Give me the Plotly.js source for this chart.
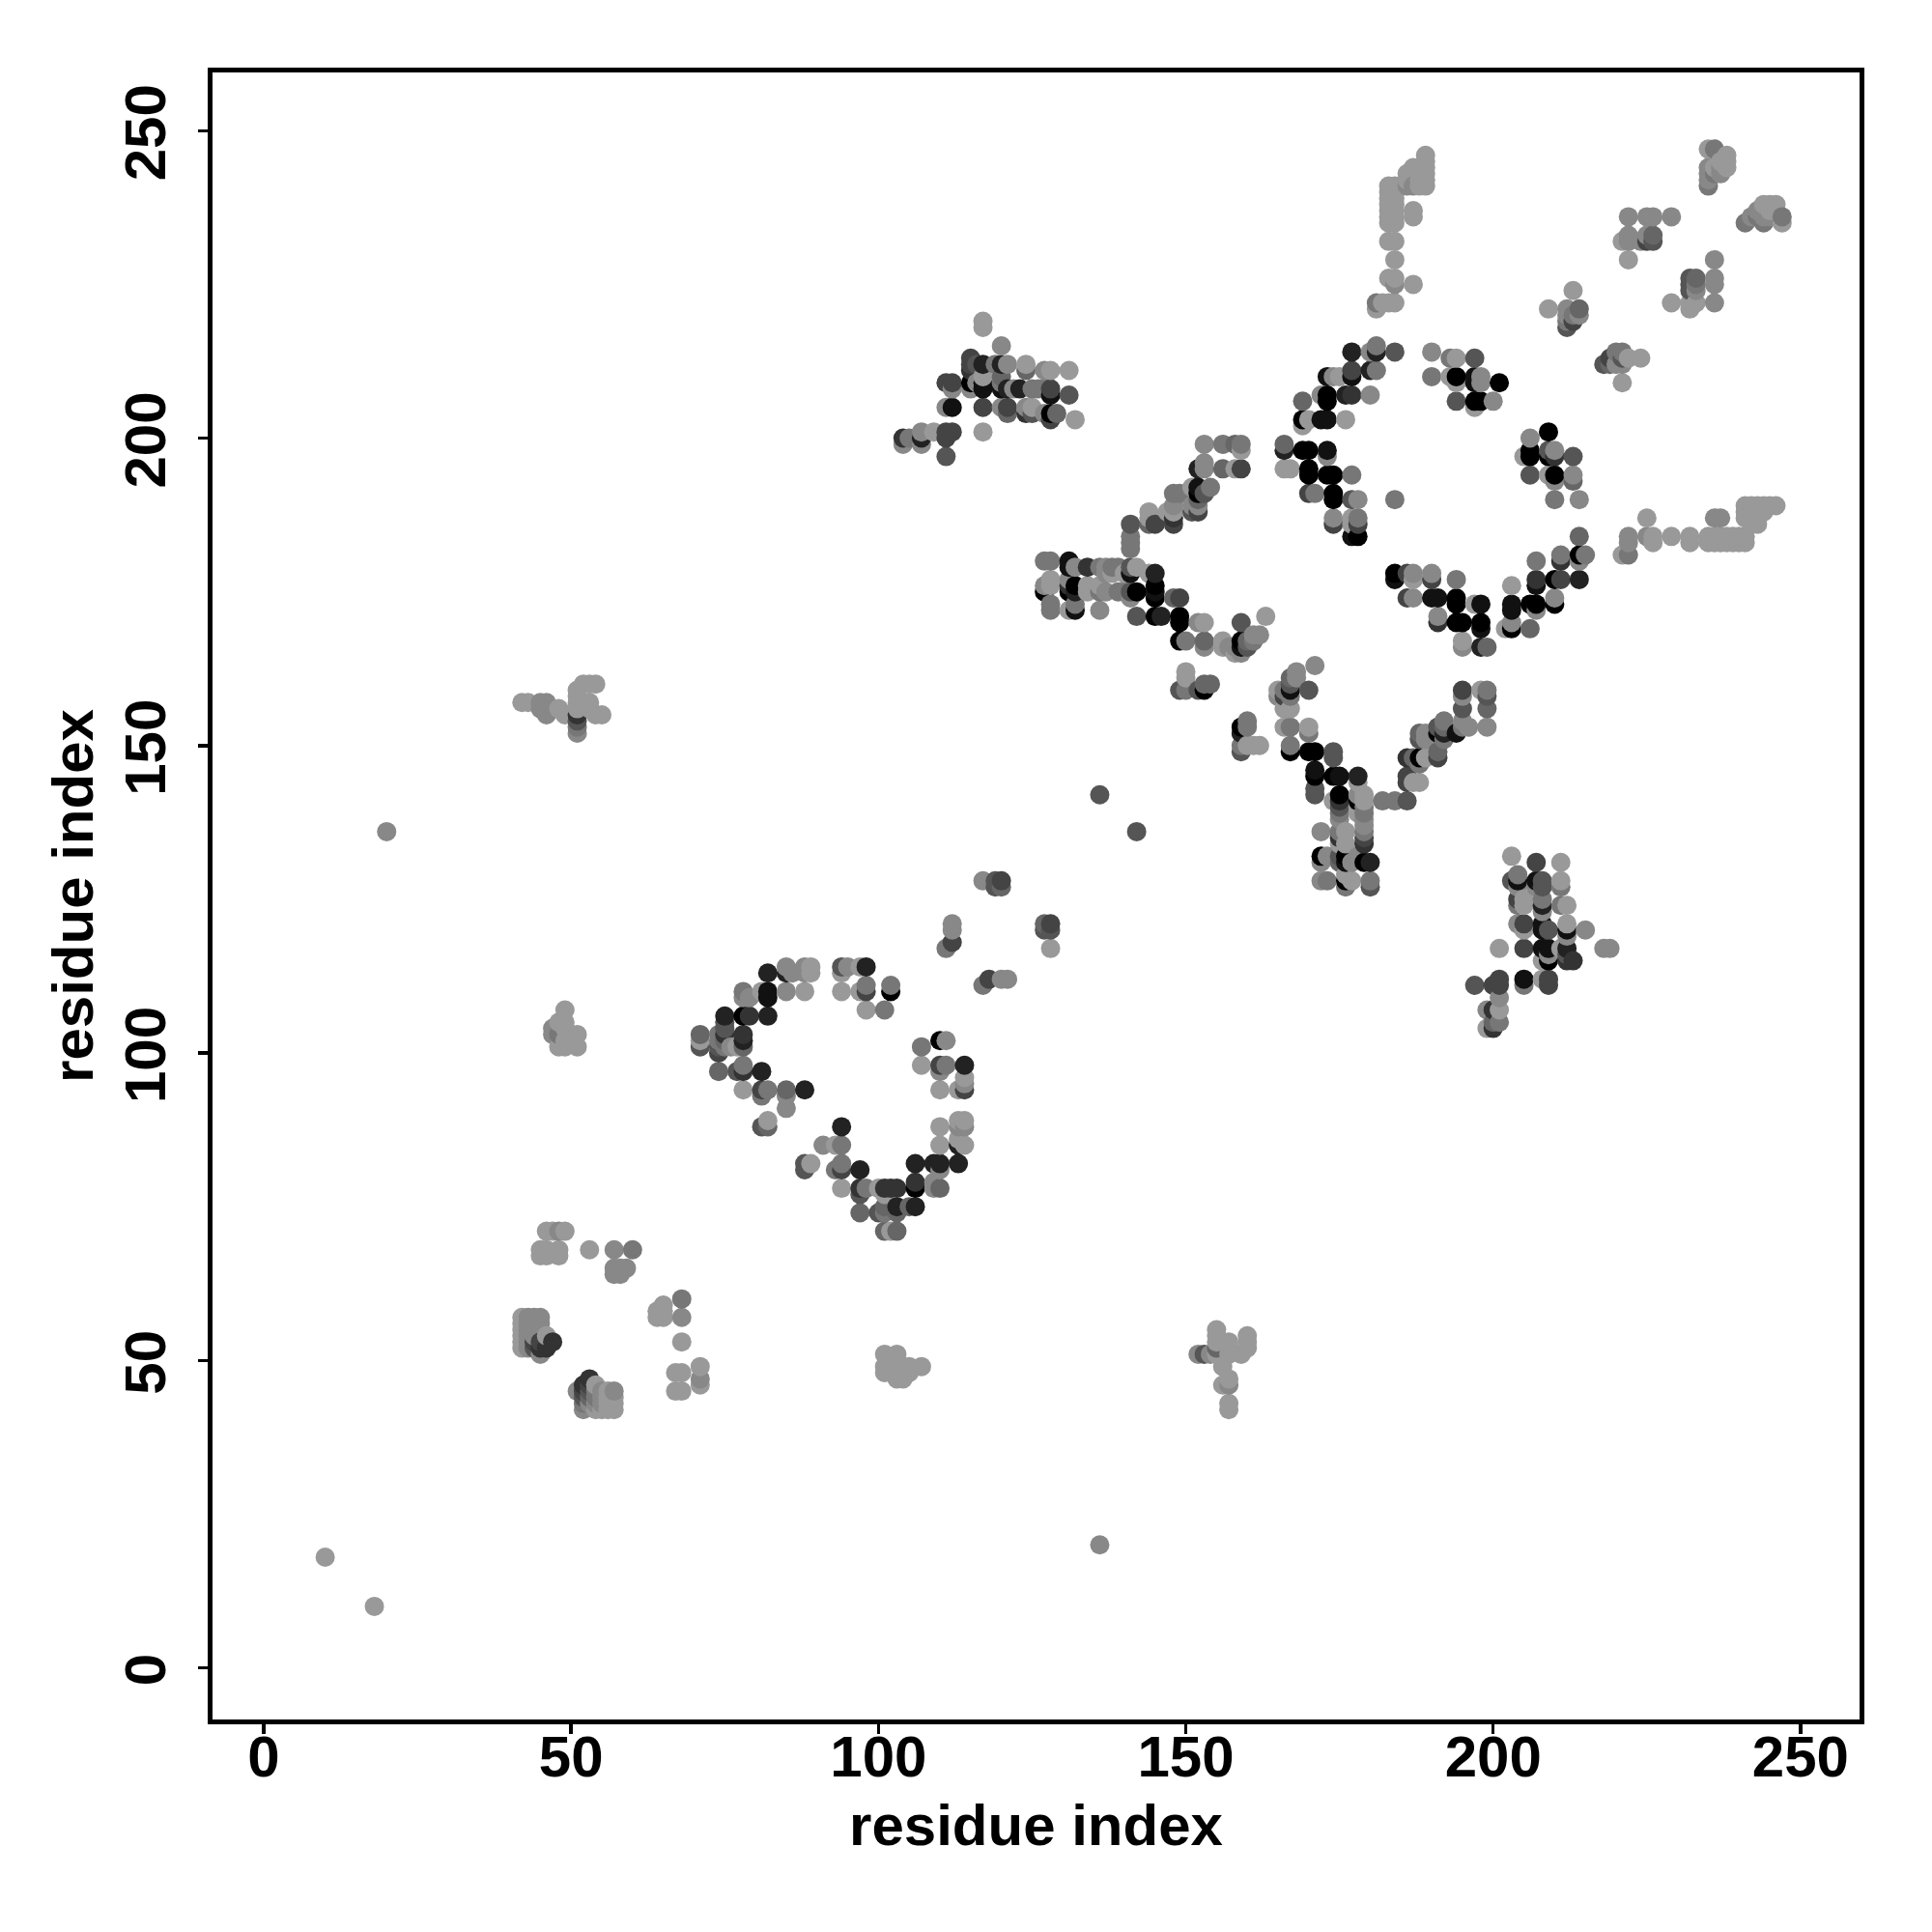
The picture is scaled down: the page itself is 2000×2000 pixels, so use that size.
<!DOCTYPE html>
<html><head><meta charset="utf-8">
<script src="https://cdn.plot.ly/plotly-3.0.1.min.js"></script>
<style>html,body{margin:0;padding:0;background:#fff}</style></head>
<body><div id="chart" style="width:2000px;height:2000px"></div>
<script>
// rows: [residue i, residue j, shade 0 (black) .. 9 (light grey)]
const singles=[[10,18,9],[18,10,9],[136,20,8],[20,136,8],[136,142,5],[142,136,5]];
const ringLow=[[82,113,2],[85,114,8],[85,113,2],[86,113,8],[88,114,8],[89,114,9],[88,113,8],[89,113,9],[78,110,7],[79,109,8],[78,109,8],[81,110,9],[82,110,1],[82,109,1],[85,110,8],[88,110,9],[75,106,2],[75,105,5],[75,104,5],[78,106,0],[79,106,3],[82,106,2],[71,103,6],[71,102,9],[71,101,5],[75,103,3],[74,103,7],[74,102,7],[74,101,5],[74,100,4],[75,102,6],[75,101,7],[78,103,3],[78,102,2],[78,101,6],[77,101,9],[76,101,8],[74,97,6],[77,97,5],[78,98,7],[78,97,3],[81,97,2],[78,94,9],[81,94,4],[81,93,7],[82,94,7],[85,94,6],[85,93,8],[85,91,8],[88,94,2],[82,89,9],[81,88,5],[82,88,6],[94,88,2],[91,85,8],[93,85,9],[94,85,7],[88,82,5],[89,82,9],[88,81,5],[93,81,7],[94,82,7],[94,81,4],[97,81,2],[94,78,9],[97,78,3],[97,77,5],[98,78,7],[97,74,6],[100,74,5],[100,78,9],[101,78,3],[102,78,3],[103,78,3],[101,77,9],[101,75,6],[103,75,2],[105,75,6],[103,74,6],[101,74,7],[101,71,6],[102,71,9],[103,71,6],[106,75,2],[106,79,3],[106,78,0],[106,82,2],[109,82,2],[110,82,2],[113,82,2],[110,81,8],[109,79,8],[110,78,6],[109,78,8],[110,88,9],[110,85,9],[113,89,9],[114,89,9],[113,88,8],[114,88,8],[113,86,9],[113,85,2],[114,85,9],[110,94,9],[113,94,9],[114,95,8],[114,94,4],[107,101,7],[107,98,9],[110,102,0],[111,102,8],[110,98,4],[111,98,7],[110,97,8],[114,98,2],[114,96,9],[94,114,5],[95,114,8],[94,113,9],[97,114,9],[98,114,2],[94,110,9],[97,110,9],[98,111,7],[98,110,4],[102,111,7],[102,110,0],[98,107,9],[101,107,7]];
const bridgeLow=[[117,111,7],[118,112,4],[120,112,8],[121,112,8],[112,121,8],[112,120,8],[112,118,4],[111,117,7],[127,121,6],[128,121,4],[127,120,5],[128,120,5],[128,117,9],[117,128,8],[119,128,5],[120,128,4],[119,127,5],[120,127,6]];
const clusterTop=[[117,219,9],[117,218,9],[120,215,8],[115,213,4],[115,212,4],[117,212,2],[116,212,5],[115,211,3],[120,212,2],[121,212,8],[119,212,7],[120,210,6],[124,212,9],[124,211,6],[127,211,8],[128,211,9],[131,211,9],[111,209,4],[112,209,4],[112,208,8],[115,209,0],[115,208,8],[116,209,8],[117,210,9],[117,209,1],[117,208,1],[120,209,7],[120,208,1],[121,208,2],[122,208,8],[123,208,2],[125,208,7],[126,208,7],[127,208,7],[128,208,4],[128,207,1],[131,207,5],[111,205,8],[112,205,1],[117,205,4],[120,205,8],[121,205,4],[121,204,6],[124,205,8],[124,204,3],[125,205,9],[125,204,5],[127,204,8],[128,204,0],[129,204,6],[128,203,4],[132,203,9],[117,201,9],[111,201,4],[112,201,4],[111,200,4],[109,201,9],[107,201,8],[107,200,2],[107,199,8],[104,200,3],[105,200,7],[104,199,8],[111,197,5]];
const chevronUp=[[153,199,8],[156,199,7],[158,199,6],[159,199,7],[159,198,9],[153,196,8],[152,195,2],[156,195,6],[158,195,9],[159,195,4],[153,195,8],[152,192,1],[154,192,7],[153,191,5],[152,191,0],[148,191,7],[149,191,7],[152,190,6],[152,189,8],[151,192,9],[151,189,8],[152,188,4],[151,188,5],[148,189,8],[147,188,9],[148,188,9],[148,187,3],[148,186,4],[144,188,9],[144,187,9],[144,186,6],[145,186,4],[141,186,5],[141,184,7],[141,183,7],[141,182,7]];
const chevronMid=[[127,180,7],[128,180,7],[131,180,1],[131,179,1],[132,179,8],[134,179,3],[136,179,7],[137,179,8],[138,179,7],[139,179,7],[141,179,5],[142,179,9],[141,178,1],[140,178,9],[138,178,9],[137,178,8],[145,178,2],[144,178,9],[128,177,9],[128,176,9],[127,176,8],[127,175,0],[131,177,8],[131,176,3],[131,175,0],[132,176,0],[132,175,2],[134,176,9],[134,175,9],[136,176,9],[136,175,7],[137,175,8],[139,175,7],[140,175,7],[141,175,5],[142,175,0],[141,174,8],[145,176,0],[145,175,1],[145,174,0],[148,174,6],[149,174,4],[128,173,7],[128,172,7],[131,172,9],[132,173,7],[132,172,1],[136,172,8],[142,171,5],[145,171,0],[146,171,2],[149,171,0],[149,170,0],[152,170,8],[153,170,9],[149,167,0],[150,167,7],[153,167,6],[153,166,8],[156,167,9],[156,166,9],[159,170,5],[163,171,9],[158,166,8],[157,166,8],[159,167,0],[159,166,1],[160,167,6],[160,166,5],[158,165,9],[159,165,8],[161,167,7],[162,168,8],[161,168,8]];
const chevronLow=[[150,162,9],[150,161,9],[150,159,7],[149,159,5],[152,159,5],[153,159,0],[153,160,6],[154,160,6],[171,163,8],[168,162,8],[167,161,6],[167,160,5],[167,159,1],[168,161,8],[170,159,5],[165,159,9],[165,158,8],[166,158,4],[166,159,7],[167,158,7],[167,156,9],[166,156,9],[166,153,9],[167,153,7],[170,153,9],[170,152,7],[160,154,7],[159,153,0],[160,153,7],[159,152,2],[159,150,7],[159,149,5],[160,150,9],[162,150,9],[161,150,9],[167,150,7],[167,149,0],[170,149,0],[171,149,0],[174,149,5],[174,148,5],[171,146,1],[171,145,0],[171,143,5],[174,145,0],[175,145,1],[178,145,2]];
const stemLow=[[171,142,5],[175,142,0],[175,141,3],[174,141,9],[178,144,9],[178,142,8],[179,142,9],[178,141,0],[179,141,9],[179,140,7],[178,140,9],[179,139,7],[178,139,9],[175,140,5],[175,139,7],[175,138,8],[179,138,8],[179,137,8],[179,136,7],[179,135,4],[179,134,3],[176,136,9],[175,136,7],[175,135,3],[176,134,9],[175,134,9],[172,136,8],[172,132,0],[173,132,8],[172,131,8],[175,132,5],[176,132,0],[176,131,1],[175,131,6],[177,131,8],[178,132,8],[179,131,0],[180,131,2],[172,128,8],[173,128,7],[176,129,9],[176,128,0],[177,128,9],[176,127,7],[180,128,7],[180,127,5]];
const armLow=[[195,159,4],[195,158,8],[195,156,5],[198,159,9],[199,159,7],[199,158,5],[199,156,6],[199,153,8],[195,154,8],[196,153,8],[195,153,7],[194,152,1],[192,154,7],[192,153,6],[192,152,2],[192,151,7],[191,153,5],[191,152,0],[188,152,6],[189,152,8],[188,151,5],[189,151,8],[191,149,6],[191,148,4],[186,148,3],[187,148,6],[188,148,0],[189,148,9],[188,147,7],[186,145,4],[186,144,4],[187,144,9],[188,144,9],[186,141,5],[184,141,7],[182,141,7]];
const ringHigh=[[177,214,2],[181,215,7],[180,214,8],[181,214,2],[184,214,5],[177,211,4],[177,210,1],[173,210,1],[174,210,8],[175,210,9],[180,211,2],[181,211,7],[173,207,0],[173,206,0],[172,207,8],[176,207,2],[177,207,3],[180,207,8],[169,206,6],[169,203,0],[170,203,9],[169,202,9],[172,203,1],[173,203,1],[176,203,9],[166,199,6],[166,198,2],[169,198,0],[170,198,0],[173,198,1],[173,197,8],[166,195,9],[167,195,9],[170,195,0],[170,194,0],[173,194,0],[174,194,0],[177,194,7],[170,191,4],[171,191,7],[174,191,0],[174,190,0],[177,190,5],[178,190,8],[184,190,7],[174,187,8],[174,186,4],[177,187,9],[178,187,7],[177,186,9],[178,186,4],[177,184,1],[178,184,0],[190,214,8],[193,213,7],[194,213,9],[197,213,5],[190,210,7],[193,210,9],[194,210,0],[194,209,9],[197,210,1],[197,209,1],[198,210,8],[198,209,8],[201,209,0],[194,206,5],[197,206,0],[198,206,0],[200,206,8],[197,205,9],[209,201,0],[206,200,8],[206,198,0],[206,197,0],[205,197,9],[209,198,5],[210,198,8],[209,197,0],[210,197,3],[213,197,5],[206,194,5],[209,194,9],[210,194,0],[210,193,8],[213,194,8],[213,193,6],[210,190,7],[214,190,8],[214,184,6],[211,181,7],[211,180,3],[214,181,0],[215,181,7],[214,180,8],[207,180,7],[207,177,3],[207,176,1],[210,177,0],[211,177,4],[214,177,2],[203,176,9],[203,173,1],[203,172,1],[206,173,0],[207,173,0],[207,172,8],[210,174,8],[210,173,0],[203,170,8],[203,169,0],[202,169,9],[206,169,6],[184,178,0],[184,177,1],[186,178,4],[187,178,8],[187,177,9],[190,178,8],[190,177,4],[194,177,7],[186,174,4],[187,174,8],[190,174,1],[191,174,1],[194,174,0],[194,173,0],[197,173,9],[198,173,1],[191,171,8],[191,170,3],[194,170,0],[195,170,0],[198,170,0],[198,169,1],[195,167,9],[195,166,8],[198,166,2],[199,166,6]];
const stemTop=[[183,241,9],[183,240,9],[183,239,9],[183,238,9],[183,237,9],[183,236,9],[183,235,9],[184,241,9],[184,240,9],[184,239,9],[184,238,9],[184,237,9],[184,236,9],[184,235,9],[185,241,9],[186,241,8],[187,241,8],[186,243,9],[186,242,9],[187,244,9],[188,244,9],[188,243,9],[188,242,9],[188,241,9],[189,246,9],[189,245,9],[189,244,9],[189,243,9],[189,242,9],[189,241,9],[187,237,9],[187,236,9],[183,232,9],[184,232,9],[184,229,9],[183,226,9],[184,226,9],[184,225,8],[187,225,9],[181,222,7],[181,221,9],[182,222,9],[183,222,9],[184,222,9]];
const cornerTop=[[222,236,8],[225,236,8],[226,236,8],[229,236,8],[222,233,8],[221,232,9],[222,232,8],[224,232,8],[225,232,4],[225,233,8],[226,233,6],[226,232,5],[222,229,9],[236,229,8],[232,226,5],[233,226,6],[232,225,5],[233,225,7],[236,226,8],[236,225,8],[232,224,5],[233,224,8],[229,222,9],[232,222,9],[233,222,9],[232,221,9],[236,222,8],[235,247,9],[236,247,7],[238,246,9],[235,244,8],[235,243,8],[235,242,8],[235,241,7],[236,244,9],[236,243,7],[237,245,9],[237,244,8],[237,243,8],[238,245,9],[238,244,9],[241,235,7],[242,236,8],[243,237,8],[244,238,9],[245,238,9],[246,238,9],[243,236,7],[244,235,7],[244,236,8],[245,237,9],[245,236,8],[247,236,7],[247,235,9],[246,237,9]];
const midTop=[[213,224,9],[209,221,9],[212,221,8],[214,221,6],[214,220,8],[212,220,8],[212,219,7],[212,218,5],[213,219,4],[213,220,7],[220,214,7],[221,214,7],[218,212,5],[219,213,4],[219,212,6],[220,212,8],[221,213,5],[221,212,8],[222,213,9],[224,213,9],[221,209,9]];
const stripRight=[[225,187,9],[222,184,8],[222,183,8],[221,181,9],[222,181,7],[225,184,8],[226,184,9],[226,183,9],[229,184,9],[232,184,9],[232,183,9],[235,184,9],[236,184,9],[237,184,9],[238,184,9],[239,184,9],[241,184,9],[235,183,9],[236,183,9],[237,183,9],[238,183,9],[239,183,9],[240,183,9],[240,184,9],[241,183,9],[236,187,8],[237,187,8],[241,189,9],[242,189,9],[243,189,9],[244,189,9],[245,189,9],[246,189,9],[241,188,9],[242,188,9],[243,188,9],[244,188,9],[241,187,9],[242,187,9],[243,187,9],[242,186,9],[243,186,9]];
const clusterRight=[[203,132,9],[207,131,4],[211,131,9],[204,129,7],[203,128,5],[204,128,1],[204,127,8],[207,128,1],[208,128,5],[208,127,5],[207,127,8],[211,128,9],[211,127,7],[204,125,4],[204,124,7],[205,125,9],[205,124,9],[208,125,7],[208,124,2],[208,123,8],[211,124,7],[212,124,9],[204,121,8],[205,121,4],[205,120,9],[208,121,1],[208,120,1],[209,120,5],[212,121,9],[212,120,1],[212,119,8],[215,120,8],[201,117,9],[205,117,4],[208,117,1],[209,117,1],[209,116,8],[209,115,0],[208,115,9],[212,117,2],[212,116,5],[212,115,3],[213,115,3],[211,117,9],[218,117,8],[219,117,8],[197,111,5],[200,111,4],[201,112,4],[201,111,4],[205,112,1],[205,111,7],[208,112,9],[209,112,4],[209,111,4],[201,109,8],[201,107,9],[199,107,8],[200,107,3],[200,105,6],[201,105,7],[199,104,9],[200,104,3]];
const lowLeft=[[46,71,9],[47,71,9],[48,71,8],[49,71,9],[45,68,9],[45,67,9],[46,68,9],[46,67,9],[48,68,9],[48,67,9],[53,68,9],[57,68,8],[60,68,7],[57,65,8],[57,64,8],[58,64,8],[59,65,8],[58,65,8],[65,59,9],[64,58,9],[64,57,9],[65,57,9],[65,58,9],[68,60,7],[68,57,8],[68,53,9],[67,48,9],[68,48,9],[67,45,9],[68,45,9],[71,49,9],[71,47,8],[71,46,9],[42,57,9],[42,56,9],[42,55,9],[42,54,9],[42,53,9],[42,52,9],[43,57,8],[43,56,8],[43,55,8],[43,54,8],[43,53,8],[43,52,8],[44,57,8],[44,56,8],[44,55,8],[44,54,8],[44,53,4],[44,52,5],[45,57,8],[45,56,8],[45,53,4],[45,52,3],[45,51,8],[46,54,9],[46,52,3],[47,53,3],[53,47,3],[52,46,3],[51,45,8],[52,45,4],[53,46,4],[54,46,9],[52,44,5],[52,43,7],[52,42,8],[53,45,5],[53,44,6],[53,43,8],[54,45,7],[54,44,7],[54,43,8],[54,42,9],[55,45,8],[55,44,8],[55,43,8],[55,42,9],[56,45,9],[56,44,9],[56,43,9],[56,42,9],[57,45,8],[57,44,9],[57,43,9],[57,42,9]];
const lowMid=[[101,51,9],[103,51,9],[101,49,9],[101,48,9],[103,49,9],[103,47,9],[104,49,9],[104,47,9],[105,49,9],[107,49,9],[102,50,9],[103,48,9],[105,48,9]];
const leftMid=[[49,107,9],[47,104,8],[48,105,9],[49,104,9],[47,103,8],[48,101,9],[49,101,9],[51,103,9],[51,101,9],[49,105,9],[48,103,7],[49,102,9],[50,103,9]];
const leftHigh=[[42,157,9],[43,157,9],[46,157,8],[45,157,8],[45,156,8],[46,155,8],[48,156,9],[49,155,9],[51,159,9],[52,160,9],[53,160,9],[54,160,9],[51,158,9],[51,157,9],[51,156,9],[51,155,3],[51,154,5],[51,153,7],[51,152,8],[53,157,9],[53,156,9],[54,155,9],[55,155,9]];
const rightLow=[[152,51,8],[153,51,5],[154,51,8],[155,55,9],[155,54,9],[155,53,9],[155,52,6],[155,51,9],[157,53,9],[157,52,9],[157,51,9],[160,54,9],[160,53,9],[160,52,9],[159,51,9],[156,49,9],[157,47,9],[157,46,8],[156,46,9],[157,43,9],[157,42,9]];

const tickValues=[0,50,100,150,200,250];
const axisTitle='residue index';

const rows=[singles,ringLow,bridgeLow,clusterTop,chevronUp,chevronMid,chevronLow,stemLow,armLow,ringHigh,stemTop,cornerTop,midTop,stripRight,clusterRight,lowLeft,lowMid,leftMid,leftHigh,rightLow].flat();
rows.sort((a,b)=>a[0]-b[0]||a[1]-b[1]);
const grey=s=>{const v=Math.round(s*17);return `rgb(${v},${v},${v})`;};
const F={family:'"Liberation Sans",Arial,sans-serif',color:'#000',weight:'bold'};
const axis={tickvals:tickValues,ticktext:tickValues.map(String),ticks:'outside',ticklen:10,tickwidth:3.5,tickcolor:'#000',showline:true,linecolor:'#000',linewidth:5,mirror:true,showgrid:false,zeroline:false,tickfont:{...F,size:60}};
Plotly.newPlot('chart',[{type:'scatter',mode:'markers',x:rows.map(r=>r[0]),y:rows.map(r=>r[1]),marker:{size:20,color:rows.map(r=>grey(r[2])),line:{width:0},opacity:1},hoverinfo:'skip'}],{
  width:2000,height:2000,paper_bgcolor:'#fff',plot_bgcolor:'#fff',showlegend:false,
  margin:{l:220,r:74.5,t:74.5,b:219.5,pad:0},
  xaxis:{...axis,range:[-8.33,259.6],ticklabelstandoff:-28,title:{text:axisTitle,font:{...F,size:60},standoff:18}},
  yaxis:{...axis,range:[-8.4,259.47],tickangle:-90,ticklabelstandoff:10,ticklabelshift:11,title:{text:axisTitle,font:{...F,size:60},standoff:3}}
},{displayModeBar:false,staticPlot:true});
</script></body></html>
